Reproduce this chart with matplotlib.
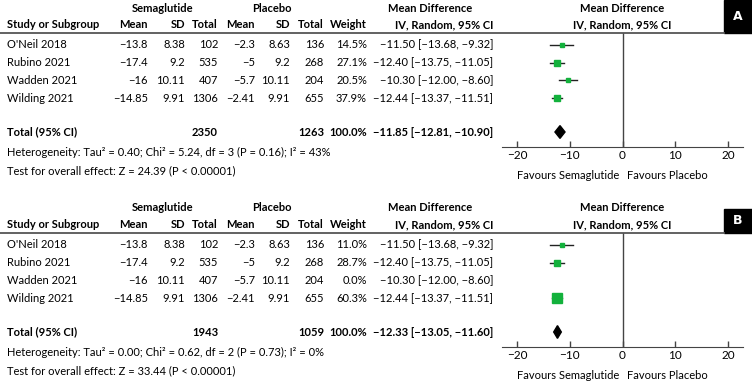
import matplotlib
matplotlib.use("Agg")
import matplotlib.pyplot as plt
from matplotlib.lines import Line2D
from matplotlib.patches import Rectangle

plt.rcParams['font.family'] = ['Lato', 'DejaVu Sans']
plt.rcParams['font.size'] = 8

# data
studies = ["O'Neil 2018", "Rubino 2021", "Wadden 2021", "Wilding 2021"]
sema_mean = [-13.8, -17.4, -16, -14.85]
sema_sd = [8.38, 9.2, 10.11, 9.91]
sema_n = [102, 535, 407, 1306]
plac_mean = [-2.3, -5, -5.7, -2.41]
plac_sd = [8.63, 9.2, 10.11, 9.91]
plac_n = [136, 268, 204, 655]
md = [-11.50, -12.40, -10.30, -12.44]
md_lo = [-13.68, -13.75, -12.00, -13.37]
md_hi = [-9.32, -11.05, -8.60, -11.51]

weights_a = [14.5, 27.1, 20.5, 37.9]
weights_b = [11.0, 28.7, 0.0, 60.3]
total_a = [2350, 1263, -11.85, -12.81, -10.90]
total_b = [1943, 1059, -12.33, -13.05, -11.60]
het_a = "Heterogeneity: Tau² = 0.40; Chi² = 5.24, df = 3 (P = 0.16); I² = 43%"
het_b = "Heterogeneity: Tau² = 0.00; Chi² = 0.62, df = 2 (P = 0.73); I² = 0%"
test_a = "Test for overall effect: Z = 24.39 (P < 0.00001)"
test_b = "Test for overall effect: Z = 33.44 (P < 0.00001)"
ticks = [-20, -10, 0, 10, 20]

W, H = 752, 385
fig = plt.figure(figsize=(W / 100, H / 100), dpi=100)

GREEN = '#13b13c'
GREY = '#444444'
ROW0, STEP, TOTROW = 45, 17.7, 132
COLS = [148, 185, 218, 255, 290, 324, 367, 493]


def num(v):
    return ('%g' % v).replace('-', '\u2212')


def ci(m, lo, hi):
    return ('%.2f [%.2f, %.2f]' % (m, lo, hi)).replace('-', '\u2212')


def txt(x, y, s, ha='left', bold=False, **kw):
    fig.text(x / W, 1 - y / H, s, ha=ha, va='center',
             fontweight='bold' if bold else 'normal', **kw)


def panel(off, weights, total, het, test, letter):
    # column headers
    txt(163, 8 + off, 'Semaglutide', ha='center', bold=True)
    txt(272, 8 + off, 'Placebo', ha='center', bold=True)
    txt(430, 8 + off, 'Mean Difference', ha='center', bold=True)
    txt(622, 8 + off, 'Mean Difference', ha='center', bold=True)
    y = 25 + off
    txt(7, y, 'Study or Subgroup', bold=True)
    for x, s in zip(COLS, ['Mean', 'SD', 'Total', 'Mean', 'SD', 'Total',
                           'Weight', 'IV, Random, 95% CI']):
        txt(x, y, s, ha='right', bold=True)
    txt(622, y, 'IV, Random, 95% CI', ha='center', bold=True)
    fig.add_artist(Line2D([0, 724 / W], [1 - (33 + off) / H] * 2,
                          color='#555555', lw=1.3))
    fig.add_artist(Rectangle((724 / W, 1 - (33 + off) / H), 28 / W,
                             (24 if off else 33) / H, color='black'))
    txt(738, (21 + off) if off else 17, letter, ha='center', bold=True,
        color='white', family='DejaVu Sans', fontsize=9)

    # study rows
    for i, name in enumerate(studies):
        y = ROW0 + STEP * i + off
        txt(7, y, name)
        cols = [num(sema_mean[i]), num(sema_sd[i]), str(sema_n[i]),
                num(plac_mean[i]), num(plac_sd[i]), str(plac_n[i]),
                '%.1f%%' % weights[i], ci(md[i], md_lo[i], md_hi[i])]
        for x, s in zip(COLS, cols):
            txt(x, y, s, ha='right')

    y = TOTROW + off
    txt(7, y, 'Total (95% CI)', bold=True)
    txt(218, y, str(total[0]), ha='right', bold=True)
    txt(324, y, str(total[1]), ha='right', bold=True)
    txt(367, y, '100.0%', ha='right', bold=True)
    txt(493, y, ci(*total[2:]), ha='right', bold=True)
    txt(7, 152 + off, het)
    txt(7, 171 + off, test)

    # forest plot
    top, bot = 33 + off, 147 + off
    ax = fig.add_axes([502 / W, 1 - bot / H, 241 / W, (bot - top) / H])
    ax.set_xlim(-22.85, 22.85)
    ax.set_ylim((bot - off - ROW0) / STEP, (top - off - ROW0) / STEP)
    ax.patch.set_alpha(0)
    for s in ['top', 'left', 'right']:
        ax.spines[s].set_visible(False)
    ax.spines['bottom'].set_color(GREY)
    ax.axvline(0, color=GREY, lw=1.0)
    for i in range(len(studies)):
        if weights[i] <= 0:
            continue
        ax.plot([md_lo[i], md_hi[i]], [i, i], color='#222222', lw=1.0)
        side = (1.5 + 0.14 * weights[i]) * 0.72
        ax.plot(md[i], i, marker='s', ms=side, color=GREEN, mec=GREEN)
    ty = (TOTROW - ROW0) / STEP
    m, lo, hi = total[2:]
    ax.fill([lo, m, hi, m], [ty, ty - 0.36, ty, ty + 0.36], color='black')
    ax.set_xticks(ticks)
    ax.set_xticklabels([num(t) for t in ticks])
    ax.set_yticks([])
    ax.tick_params(axis='x', direction='in', length=4, width=1.0,
                   color=GREY, pad=2, labelsize=8.5)
    ax.text(-0.6, -0.25, 'Favours Semaglutide', ha='right', va='center',
            transform=ax.get_xaxis_transform())
    ax.text(0.9, -0.25, 'Favours Placebo', ha='left', va='center',
            transform=ax.get_xaxis_transform())


panel(0, weights_a, total_a, het_a, test_a, 'A')
panel(200, weights_b, total_b, het_b, test_b, 'B')

fig.savefig('out.png', dpi=100)
